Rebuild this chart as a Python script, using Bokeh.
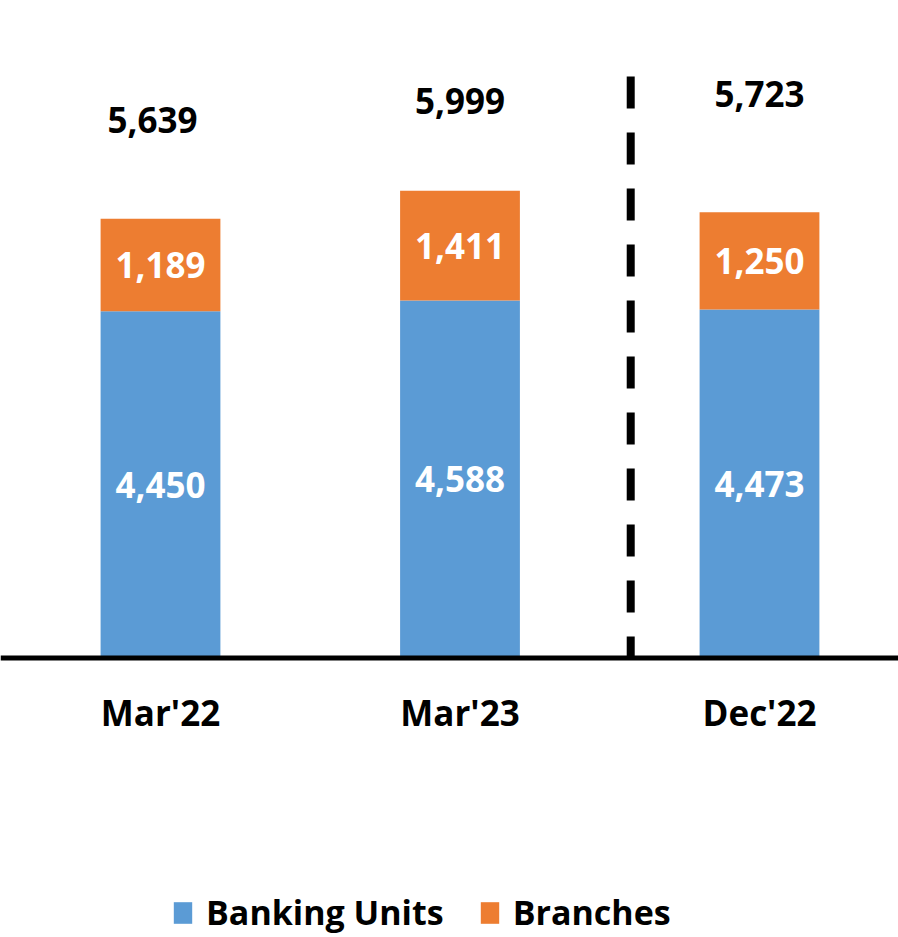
from bokeh.plotting import figure
from bokeh.models import ColumnDataSource, Span, Range1d, Legend, LegendItem
from bokeh.core.properties import value
from bokeh.embed import file_html
from bokeh.resources import INLINE
import numpy as np

# ---- data ----
categories = ["Mar'22", "Mar'23", "Dec'22"]
banking_units = [4450, 4588, 4473]
branches = [1189, 1411, 1250]
totals = [5639, 5999, 5723]
series_names = ["Banking Units", "Branches"]

# ---- style ----
BLUE = "#5B9BD5"
ORANGE = "#ED7D31"
FONT_NAME = "Open Sans"
FONT = value(FONT_NAME)
W, H = 898, 937
PX_PER_UNIT = 0.0779          # vertical scale in px per value unit
BASE_PX = 657.5               # baseline position in px from top
X0_PX, DX_PX = 160, 299.5     # first category centre & spacing (px)

x = np.arange(len(categories))
bu = np.array(banking_units)
br = np.array(branches)
tot = np.array(totals)

src = ColumnDataSource(dict(
    x=x, bu=bu, top=bu + br, br=br,
    bu_mid=bu / 2, br_mid=bu + br / 2, tot=tot,
    bu_lbl=[f"{v:,}" for v in bu], br_lbl=[f"{v:,}" for v in br],
    tot_lbl=[f"{v:,}" for v in tot], cat=categories,
    tot_lift=[-99, -90, -118], tot_dx=[-8, 0, 0],
))

p = figure(width=W, height=H, output_backend="svg", toolbar_location=None,
           x_range=Range1d(-X0_PX / DX_PX, (W - X0_PX) / DX_PX),
           y_range=Range1d(-(H - BASE_PX) / PX_PER_UNIT, BASE_PX / PX_PER_UNIT),
           min_border=0, outline_line_color=None)
p.axis.visible = False
p.grid.visible = False

r_bu = p.vbar(x="x", bottom=0, top="bu", width=0.4, source=src,
              fill_color=BLUE, line_color=None)
r_br = p.vbar(x="x", bottom="bu", top="top", width=0.4, source=src,
              fill_color=ORANGE, line_color=None)

# baseline axis line
p.add_layout(Span(location=0, dimension="width", line_color="black", line_width=5))

# dashed separator between Mar'23 and Dec'22
sep_x = 1.57
p.segment(x0=[sep_x], y0=[(BASE_PX - 76) / PX_PER_UNIT], x1=[sep_x], y1=[0],
          line_color="black", line_width=8, line_dash="32 24")

common = dict(text_font=FONT, text_font_style="bold", text_font_size="35px",
              text_align="center", text_baseline="middle", source=src)
p.text(x="x", y="bu_mid", text="bu_lbl", text_color="white", **common)
p.text(x="x", y="br_mid", text="br_lbl", text_color="white", **common)
p.text(x="x", y="top", text="tot_lbl", text_color="black",
       y_offset="tot_lift", x_offset="tot_dx", **common)
p.text(x="x", y=0, text="cat", text_color="black", y_offset=54, **common)

legend = Legend(items=[LegendItem(label=series_names[0], renderers=[r_bu]),
                       LegendItem(label=series_names[1], renderers=[r_br])],
                orientation="horizontal", location=(171, 2),
                label_text_font=FONT_NAME, label_text_font_style="bold",
                label_text_font_size="34px", label_text_color="black",
                glyph_width=23, glyph_height=27, label_standoff=12, spacing=34,
                padding=0, margin=0, border_line_color=None,
                background_fill_alpha=0)
p.add_layout(legend)

open("out.html", "w").write(file_html(p, INLINE))
